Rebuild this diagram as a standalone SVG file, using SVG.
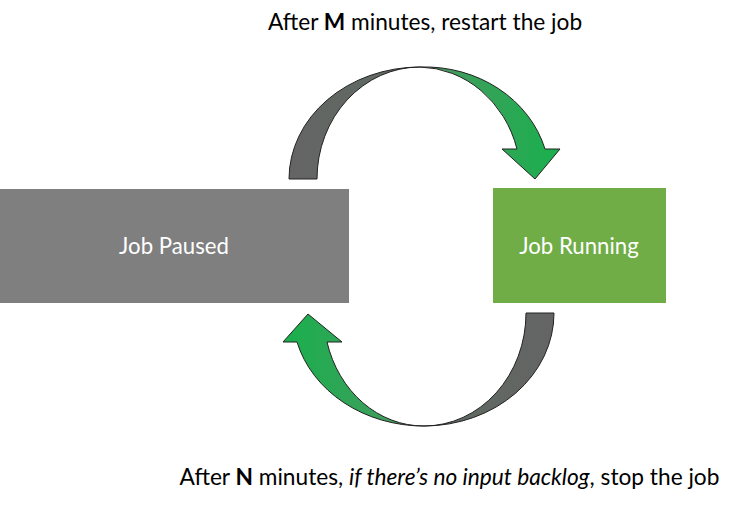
<svg xmlns="http://www.w3.org/2000/svg" width="740" height="507" viewBox="0 0 740 507">
<defs>
<linearGradient id="gTop" x1="289" y1="0" x2="560" y2="0" gradientUnits="userSpaceOnUse">
<stop offset="0" stop-color="#646464"/>
<stop offset="0.4" stop-color="#5f6a62"/>
<stop offset="0.62" stop-color="#3e9e5c"/>
<stop offset="1" stop-color="#19b04d"/>
</linearGradient>
<linearGradient id="gBot" x1="283" y1="0" x2="554" y2="0" gradientUnits="userSpaceOnUse">
<stop offset="0" stop-color="#19b04d"/>
<stop offset="0.38" stop-color="#3e9e5c"/>
<stop offset="0.6" stop-color="#5f6a62"/>
<stop offset="1" stop-color="#646464"/>
</linearGradient>
<style>
.lbl{font-family:Lato,"Liberation Sans",sans-serif;font-size:22.7px;fill:#000}
.box{font-family:Lato,"Liberation Sans",sans-serif;font-size:22.2px;fill:#fff}
.arr{stroke:#222;stroke-width:1}
</style>
</defs>
<g id="connectors">
<path class="arr" fill="url(#gTop)" d="M289,179 A131,112 0 0 1 420,67 A125,112 0 0 1 545,149 L560,149 L535,179 L502,149 L517,149 A103,112 0 0 0 420,67 A103,112 0 0 0 317,179 Z"/>
<path class="arr" fill="url(#gBot)" d="M554,313 A130,113 0 0 1 424,426 A131,113 0 0 1 297,342 L283,342 L308,314 L342,342 L327,342 A100,113 0 0 0 424,426 A102,113 0 0 0 526,313 Z"/>
</g>
<g id="paused">
<rect x="0" y="189" width="349" height="114" fill="#7f7f7f"/>
<text class="box" x="174" y="254" text-anchor="middle">Job Paused</text>
</g>
<g id="running">
<rect x="493" y="188" width="173" height="115" fill="#70ad47"/>
<text class="box" x="579" y="254" text-anchor="middle">Job Running</text>
</g>
<g id="label-top">
<text class="lbl" x="425" y="30" text-anchor="middle">After <tspan font-weight="bold">M</tspan> minutes, restart the job</text>
</g>
<g id="label-bottom">
<text class="lbl" x="449.5" y="485" text-anchor="middle">After <tspan font-weight="bold">N</tspan> minutes, <tspan font-style="italic">if there’s no input backlog</tspan>, stop the job</text>
</g>
</svg>
